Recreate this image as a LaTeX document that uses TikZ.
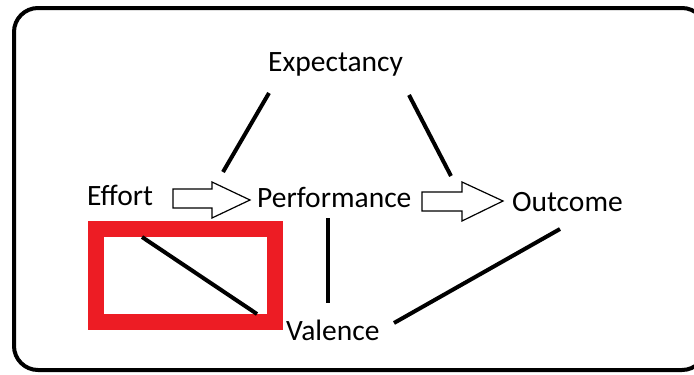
\documentclass[tikz,border=0pt]{standalone}
\usepackage{fontspec}
\setmainfont{Carlito}
\begin{document}
\begin{tikzpicture}[x=1pt,y=-1pt,
  lbl/.style={anchor=base west,inner sep=0pt,font=\fontsize{29.5}{34}\selectfont},
  link/.style={line width=4pt,black},
  blockarrow/.style={draw=black,line width=1.2pt,fill=white},
  redbox/.style={draw={rgb,255:red,237;green,28;blue,36},line width=16pt}]
\useasboundingbox (0,0) rectangle (694,375);
\clip (0,0) rectangle (694,375);
% outer frame
\draw[line width=4pt,rounded corners=24pt] (14,8) rectangle (706,370);
% labels
\node[lbl] (exp) at (268,71) {Expectancy};
\node[lbl] (eff) at (87,205) {Effort};
\node[lbl] (perf) at (257,207) {Performance};
\node[lbl] (out) at (512,211) {Outcome};
\node[lbl] (val) at (286,340) {Valence};
% connector endpoints
\coordinate (e1) at (269,93);  \coordinate (p1) at (223,172);
\coordinate (e2) at (409,95);  \coordinate (o1) at (451,176);
\coordinate (p2) at (328,218); \coordinate (v1) at (328,303);
\coordinate (o2) at (560,229); \coordinate (v2) at (394,323);
\draw[link] (e1) -- (p1);
\draw[link] (e2) -- (o1);
\draw[link] (p2) -- (v1);
\draw[link] (o2) -- (v2);
% block arrows
\draw[blockarrow] (173,189) -- (212,189) -- (212,182) -- (250,200) -- (212,218) -- (212,208) -- (173,208) -- cycle;
\draw[blockarrow] (422,192) -- (462,192) -- (462,182) -- (503,201) -- (462,221) -- (462,211) -- (422,211) -- cycle;
% red box with diagonal
\draw[redbox] (96,229) rectangle (275,322);
\coordinate (d1) at (142,237); \coordinate (d2) at (257,314);
\draw[link] (d1) -- (d2);
\end{tikzpicture}
\end{document}
